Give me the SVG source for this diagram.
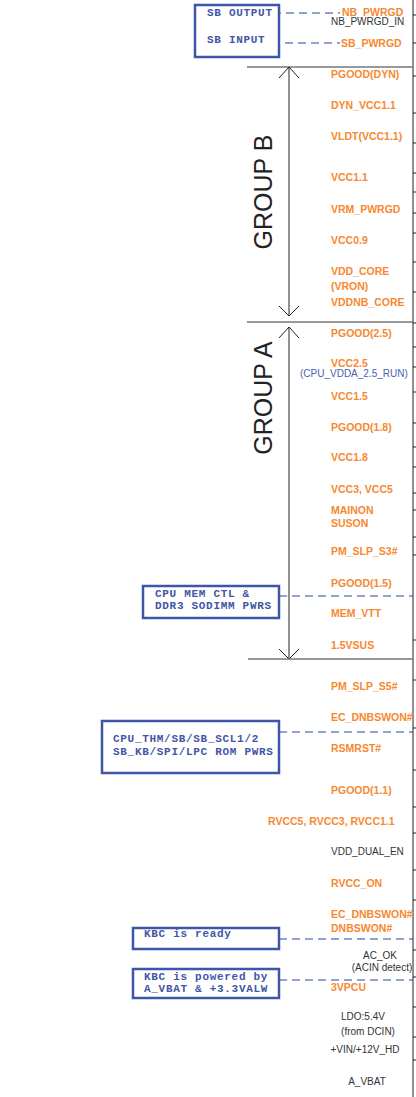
<svg xmlns="http://www.w3.org/2000/svg" width="416" height="1097" viewBox="0 0 416 1097">
<style>
.o{font-family:"Liberation Sans",Arial,sans-serif;font-weight:bold;font-size:10.5px;fill:#f7882f}
.g{font-family:"Liberation Sans",Arial,sans-serif;font-size:10px;fill:#333}
.b{font-family:"Liberation Sans",Arial,sans-serif;font-size:10px;fill:#4a62b0}
.m{font-family:"Liberation Mono","Courier New",monospace;font-weight:bold;font-size:11px;letter-spacing:0.7px;fill:#3f56a6}
.box{fill:#fff;stroke:#3f56a6;stroke-width:2.5}
.d{stroke:#6e84c8;stroke-width:1.3;stroke-dasharray:8,5;fill:none}
.sep{stroke:#777;stroke-width:1.6}
.ar{stroke:#222;stroke-width:1;fill:none}
.grp{font-family:"Liberation Sans",Arial,sans-serif;font-size:25px;fill:#222}
</style>
<rect width="416" height="1097" fill="#fff"/>
<g id="connectors">
<line class="d" x1="273" y1="13" x2="340" y2="13"/>
<line class="d" x1="272" y1="43" x2="340" y2="43"/>
<line class="d" x1="279" y1="596" x2="413" y2="596"/>
<line class="d" x1="279" y1="732" x2="413" y2="732"/>
<line class="d" x1="279" y1="939" x2="413" y2="939"/>
<line class="d" x1="279" y1="980" x2="413" y2="980"/>
</g>
<g id="timeline">
<line x1="413" y1="0" x2="413" y2="1097" stroke="#222" stroke-width="1"/>
<path stroke="#222" stroke-width="1" d="M413 15h3M413 43h3M413 76h3M413 113h3M413 143h3M413 173h3M413 192h3M413 213h3M413 233h3M413 262h3M413 292h3M413 323h3M413 347h3M413 367h3M413 392h3M413 423h3M413 447h3M413 467h3M413 493h3M413 510h3M413 537h3M413 555h3M413 640h3M413 680h3M413 728h3M413 770h3M413 807h3M413 833h3M413 870h3M413 900h3M413 950h3M413 977h3M413 1007h3M413 1037h3M413 1060h3"/>
</g>
<g id="groupB">
<line class="sep" x1="247" y1="67" x2="413" y2="67"/>
<line class="ar" x1="289" y1="67" x2="289" y2="316"/>
<path class="ar" d="M279 78L289 67L299 78M279 306L289 316L299 306"/>
<text class="grp" transform="translate(272,192) rotate(-90)" text-anchor="middle">GROUP B</text>
</g>
<g id="groupA">
<line class="sep" x1="247" y1="322" x2="413" y2="322"/>
<line class="ar" x1="289" y1="327" x2="289" y2="659"/>
<path class="ar" d="M279 338L289 327L299 338M279 649L289 659L299 649"/>
<line class="sep" x1="248" y1="659" x2="413" y2="659"/>
<text class="grp" transform="translate(272,398) rotate(-90)" text-anchor="middle">GROUP A</text>
</g>
<g id="sb-box">
<rect class="box" x="195" y="5" width="84" height="52"/>
<text class="m" x="207" y="16">SB OUTPUT</text>
<text class="m" x="207" y="43">SB INPUT</text>
</g>
<g id="cpu-mem-box">
<rect class="box" x="143" y="586" width="136" height="32"/>
<text class="m" x="155" y="597">CPU MEM CTL &amp;</text>
<text class="m" x="155" y="609">DDR3 SODIMM PWRS</text>
</g>
<g id="cpu-thm-box">
<rect class="box" x="102" y="721" width="177" height="52"/>
<text class="m" x="113" y="742">CPU_THM/SB/SB_SCL1/2</text>
<text class="m" x="113" y="755">SB_KB/SPI/LPC ROM PWRS</text>
</g>
<g id="kbc-ready-box">
<rect class="box" x="133" y="928" width="146" height="21"/>
<text class="m" x="144" y="937">KBC is ready</text>
</g>
<g id="kbc-powered-box">
<rect class="box" x="133" y="969" width="146" height="29"/>
<text class="m" x="144" y="980">KBC is powered by</text>
<text class="m" x="144" y="992">A_VBAT &amp; +3.3VALW</text>
</g>
<g id="labels">
<text class="o" x="342" y="16">NB_PWRGD</text>
<text class="g" x="331" y="25">NB_PWRGD_IN</text>
<text class="o" x="341" y="47">SB_PWRGD</text>
<text class="o" x="331" y="78">PGOOD(DYN)</text>
<text class="o" x="331" y="109">DYN_VCC1.1</text>
<text class="o" x="331" y="140">VLDT(VCC1.1)</text>
<text class="o" x="331" y="181">VCC1.1</text>
<text class="o" x="331" y="213">VRM_PWRGD</text>
<text class="o" x="331" y="244">VCC0.9</text>
<text class="o" x="331" y="275">VDD_CORE</text>
<text class="o" x="331" y="290">(VRON)</text>
<text class="o" x="331" y="306">VDDNB_CORE</text>
<text class="o" x="331" y="337">PGOOD(2.5)</text>
<text class="o" x="331" y="367">VCC2.5</text>
<text class="b" x="300" y="377">(CPU_VDDA_2.5_RUN)</text>
<text class="o" x="331" y="400">VCC1.5</text>
<text class="o" x="331" y="431">PGOOD(1.8)</text>
<text class="o" x="331" y="461">VCC1.8</text>
<text class="o" x="331" y="493">VCC3, VCC5</text>
<text class="o" x="331" y="514">MAINON</text>
<text class="o" x="331" y="527">SUSON</text>
<text class="o" x="331" y="555">PM_SLP_S3#</text>
<text class="o" x="331" y="587">PGOOD(1.5)</text>
<text class="o" x="331" y="617">MEM_VTT</text>
<text class="o" x="331" y="649">1.5VSUS</text>
<text class="o" x="331" y="690">PM_SLP_S5#</text>
<text class="o" x="331" y="721">EC_DNBSWON#</text>
<text class="o" x="331" y="752">RSMRST#</text>
<text class="o" x="331" y="794">PGOOD(1.1)</text>
<text class="o" x="268" y="825">RVCC5, RVCC3, RVCC1.1</text>
<text class="g" x="331" y="855">VDD_DUAL_EN</text>
<text class="o" x="331" y="887">RVCC_ON</text>
<text class="o" x="331" y="918">EC_DNBSWON#</text>
<text class="o" x="331" y="932">DNBSWON#</text>
<text class="g" x="380" y="959" text-anchor="middle">AC_OK</text>
<text class="g" x="382" y="971" text-anchor="middle">(ACIN detect)</text>
<text class="o" x="331" y="991">3VPCU</text>
<text class="g" x="363" y="1020" text-anchor="middle">LDO:5.4V</text>
<text class="g" x="368" y="1035" text-anchor="middle">(from DCIN)</text>
<text class="g" x="365" y="1053" text-anchor="middle">+VIN/+12V_HD</text>
<text class="g" x="367" y="1085" text-anchor="middle">A_VBAT</text>
</g>
</svg>
